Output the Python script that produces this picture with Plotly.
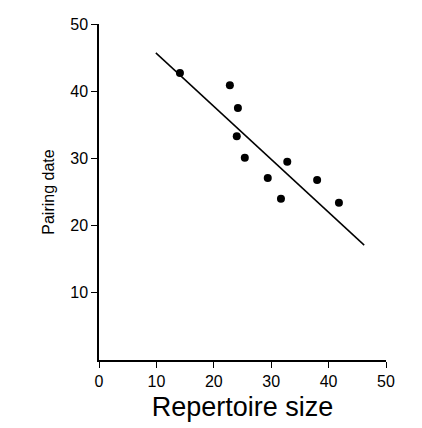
import plotly.graph_objects as go

repertoire = [14.1, 22.8, 24.2, 24.0, 25.4, 29.4, 31.7, 32.8, 38.0, 41.8]
pairing = [42.7, 40.9, 37.5, 33.3, 30.1, 27.1, 24.0, 29.5, 26.8, 23.4]
fit_x = [9.9, 46.2]
fit_y = [45.7, 17.1]

fig = go.Figure()
fig.add_trace(go.Scatter(x=fit_x, y=fit_y, mode="lines",
                         line=dict(color="black", width=1.5), showlegend=False))
fig.add_trace(go.Scatter(x=repertoire, y=pairing, mode="markers",
                         marker=dict(color="black", size=8), showlegend=False))

fig.update_layout(
    width=422, height=428,
    margin=dict(l=91, r=44, t=16, b=76, autoexpand=False),
    plot_bgcolor="white", paper_bgcolor="white",
    font=dict(family="Liberation Sans, Arial", color="black", size=16),
)
fig.update_xaxes(range=[0, 50], tickvals=[0, 10, 20, 30, 40, 50], automargin=False,
                 showline=True, linecolor="black", linewidth=1.5,
                 ticks="outside", ticklen=6, tickcolor="black", showgrid=False, zeroline=False,
                 title=dict(text="Repertoire size", font=dict(size=27), standoff=8))
fig.update_yaxes(range=[0, 50], tickvals=[10, 20, 30, 40, 50], automargin=False,
                 showline=True, linecolor="black", linewidth=1.5,
                 ticks="outside", ticklen=6, tickcolor="black", showgrid=False, zeroline=False,
                 title=dict(text="Pairing date", font=dict(size=16), standoff=12))
fig.write_html("out.html")
